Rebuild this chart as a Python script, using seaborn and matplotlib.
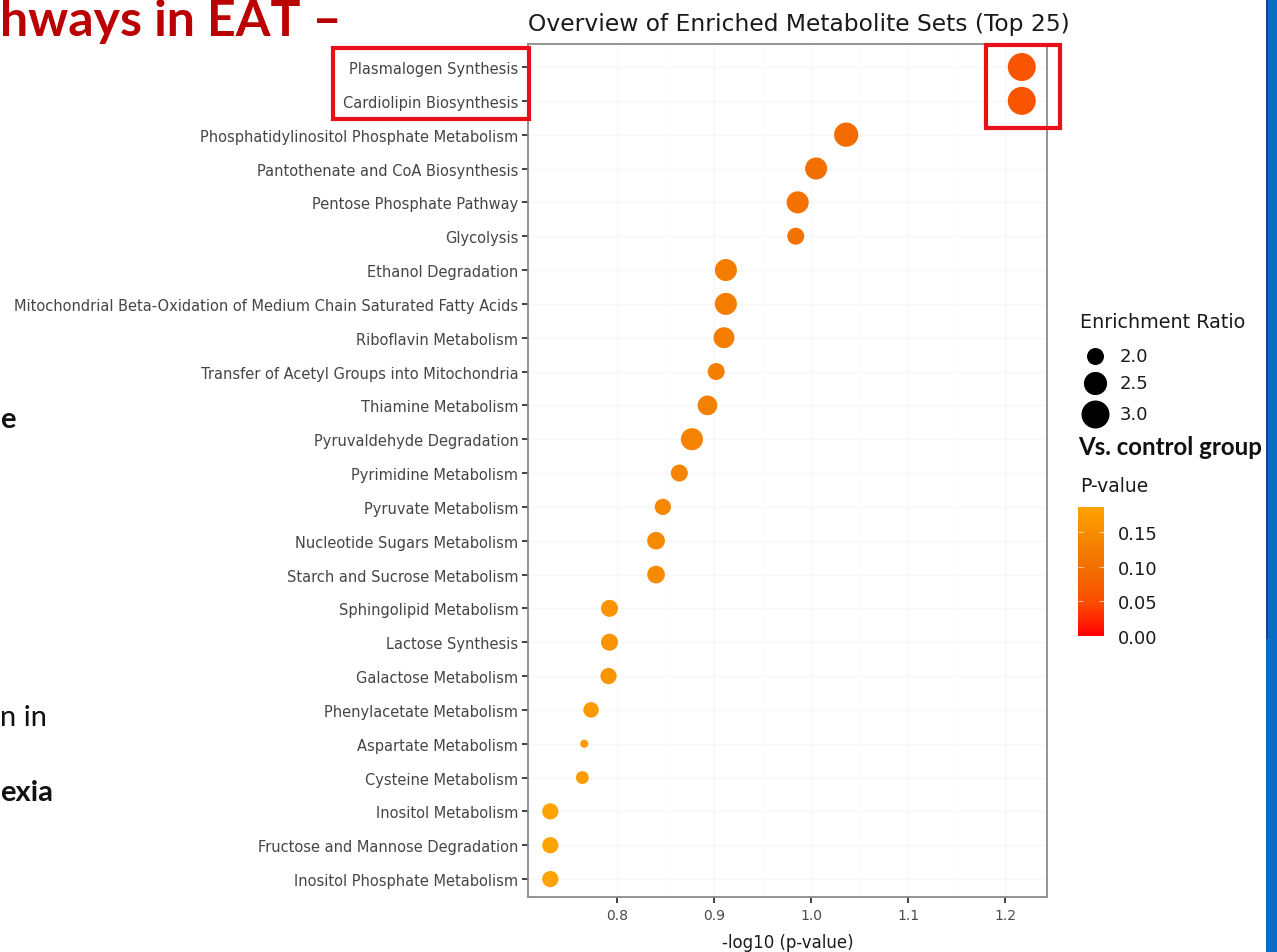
import numpy as np
import pandas as pd
import seaborn as sns
import matplotlib
matplotlib.use("Agg")
import matplotlib.pyplot as plt
from matplotlib.colors import LinearSegmentedColormap, Normalize
from matplotlib.patches import Rectangle
from matplotlib.cm import ScalarMappable
import matplotlib.transforms as mtransforms

# ---- data -------------------------------------------------------------
metabolite_sets = [
    "Plasmalogen Synthesis",
    "Cardiolipin Biosynthesis",
    "Phosphatidylinositol Phosphate Metabolism",
    "Pantothenate and CoA Biosynthesis",
    "Pentose Phosphate Pathway",
    "Glycolysis",
    "Ethanol Degradation",
    "Mitochondrial Beta-Oxidation of Medium Chain Saturated Fatty Acids",
    "Riboflavin Metabolism",
    "Transfer of Acetyl Groups into Mitochondria",
    "Thiamine Metabolism",
    "Pyruvaldehyde Degradation",
    "Pyrimidine Metabolism",
    "Pyruvate Metabolism",
    "Nucleotide Sugars Metabolism",
    "Starch and Sucrose Metabolism",
    "Sphingolipid Metabolism",
    "Lactose Synthesis",
    "Galactose Metabolism",
    "Phenylacetate Metabolism",
    "Aspartate Metabolism",
    "Cysteine Metabolism",
    "Inositol Metabolism",
    "Fructose and Mannose Degradation",
    "Inositol Phosphate Metabolism",
]
neg_log10_p = [1.217, 1.217, 1.036, 1.005, 0.986, 0.984, 0.912, 0.912, 0.910,
               0.902, 0.893, 0.877, 0.864, 0.847, 0.840, 0.840, 0.792, 0.792,
               0.791, 0.773, 0.766, 0.764, 0.731, 0.731, 0.731]
enrichment_ratio = [3.0, 3.0, 2.6, 2.4, 2.4, 2.0, 2.4, 2.4, 2.3, 2.0, 2.2, 2.4,
                    2.0, 1.95, 2.05, 2.05, 2.0, 2.0, 1.95, 1.9, 1.55, 1.75,
                    1.95, 1.95, 1.95]
highlighted = ["Plasmalogen Synthesis", "Cardiolipin Biosynthesis"]

x_ticks = [0.8, 0.9, 1.0, 1.1, 1.2]
ratio_legend = [2.0, 2.5, 3.0]
p_ticks = [0.00, 0.05, 0.10, 0.15]

df = pd.DataFrame({"set": metabolite_sets,
                   "neglog": neg_log10_p,
                   "ratio": enrichment_ratio})
df["p"] = 10.0 ** (-df["neglog"])
p_max = df["p"].max()

# ---- styling ---------------------------------------------------------
W, H = 1277, 953
sns.set_theme(style="white")
plt.rcParams["font.family"] = ["DejaVu Sans"]

cmap = LinearSegmentedColormap.from_list(
    "pvalue", ["#FF0000", "#FC4B00", "#F26C00", "#F58600", "#FFA300"])
p_norm = Normalize(0.0, p_max)

SIZE_NORM = (1.5, 3.0)
SIZE_RANGE = (21.5, 406.0)


def marker_area(r):
    lo, hi = SIZE_NORM
    return SIZE_RANGE[0] + (r - lo) / (hi - lo) * (SIZE_RANGE[1] - SIZE_RANGE[0])


def fx(px):
    return px / W


def fy(py):
    return 1 - py / H


fig = plt.figure(figsize=(W / 100, H / 100), dpi=100)
fig.patch.set_facecolor("white")

ax = fig.add_axes([fx(528), fy(898), fx(1047) - fx(528), fy(45) - fy(898)])

sns.scatterplot(data=df, x="neglog", y="set", hue="p", palette=cmap,
                hue_norm=p_norm, size="ratio", sizes=SIZE_RANGE,
                size_norm=SIZE_NORM, legend=False, linewidth=0, ax=ax,
                zorder=3)

ax.set_xlim(0.708, 1.243)
ax.set_ylim(len(metabolite_sets) - 0.47, -0.68)
ax.set_xticks(x_ticks)
ax.set_xticklabels([f"{t:.1f}" for t in x_ticks])
ax.set_xticks(np.array(x_ticks[:-1]) + 0.05, minor=True)
ax.grid(True, which="major", color="#f7f7f7", linewidth=1.0)
ax.grid(True, which="minor", axis="x", color="#fafafa", linewidth=0.6)
ax.set_axisbelow(True)
for s in ax.spines.values():
    s.set_color("#8a8a8a")
    s.set_linewidth(1.3)

ax.tick_params(axis="x", which="major", length=4, width=1.3,
               color="#333333", labelcolor="#4a4a4a", labelsize=10, pad=4,
               bottom=True)
ax.tick_params(axis="y", which="major", length=4, width=1.3,
               color="#333333", labelcolor="#454545", labelsize=10.5, pad=3,
               left=True)
ax.tick_params(axis="both", which="minor", length=0)
ax.set_xlabel("-log10 (p-value)", fontsize=12, color="#1a1a1a", labelpad=8)
ax.set_ylabel("")
ax.set_title("Overview of Enriched Metabolite Sets (Top 25)", loc="left",
             fontsize=16.8, color="#1a1a1a", pad=10)

# ---- highlight boxes --------------------------------------------------
red = "#E8101A"
rows = [metabolite_sets.index(h) for h in highlighted]
hx = [neg_log10_p[i] for i in rows]
label_box = Rectangle((-0.376, min(rows) - 0.57), 0.378,
                      max(rows) - min(rows) + 1.11,
                      transform=mtransforms.blended_transform_factory(
                          ax.transAxes, ax.transData),
                      fill=False, edgecolor=red, linewidth=3.0, clip_on=False,
                      zorder=5)
ax.add_patch(label_box)
point_box = Rectangle((min(hx) - 0.037, min(rows) - 0.66), 0.076,
                      max(rows) - min(rows) + 1.46, fill=False,
                      edgecolor=red, linewidth=3.0, clip_on=False, zorder=5)
ax.add_patch(point_box)

# ---- legends ----------------------------------------------------------
overlay = fig.add_axes([0, 0, 1, 1], facecolor="none")
overlay.set_xlim(0, W)
overlay.set_ylim(H, 0)
overlay.axis("off")

overlay.text(1080, 323, "Enrichment Ratio", fontsize=13.8, color="#1a1a1a",
             va="center", ha="left")
for r, yy in zip(ratio_legend, [357, 384, 415]):
    overlay.scatter([1095], [yy], s=marker_area(r), color="black",
                    linewidth=0)
    overlay.text(1120, yy, f"{r:.1f}", fontsize=13, color="#1a1a1a",
                 va="center", ha="left")

overlay.text(1078, 448, "Vs. control group", fontsize=17.3, fontweight="bold",
             family="Lato", color="#111111", va="center", ha="left")
overlay.text(1080, 487, "P-value", fontsize=13.5, color="#1a1a1a",
             va="center", ha="left")

cax = fig.add_axes([fx(1078), fy(637), fx(1104) - fx(1078), fy(508) - fy(637)])
cb = fig.colorbar(ScalarMappable(norm=p_norm, cmap=cmap), cax=cax)
cb.outline.set_visible(False)
cb.set_ticks(p_ticks)
cb.set_ticklabels([f"{t:.2f}" for t in p_ticks])
cax.tick_params(length=0, labelsize=13, labelcolor="#1a1a1a", pad=10)
for t in p_ticks[1:]:
    cax.hlines(t, 0, 0.2, color="white", linewidth=0.8, alpha=0.6)
    cax.hlines(t, 0.8, 1.0, color="white", linewidth=0.8, alpha=0.6)

# ---- slide elements around the chart ----------------------------------
overlay.text(0, 22, "hways in EAT \u2013", fontsize=36, fontweight="bold",
             family="Lato", color="#BA0000", ha="left", va="center")
overlay.text(0, 420, "e", fontsize=21, fontweight="bold",
             family="Lato", color="#111111", ha="left", va="center")
overlay.text(0, 718, "n in", fontsize=21, family="Lato",
             color="#111111", ha="left", va="center")
overlay.text(0, 793, "exia", fontsize=21, fontweight="bold",
             family="Lato", color="#111111", ha="left", va="center")

overlay.add_patch(Rectangle((1266, 0), 11, H, color="#0B6CC4", linewidth=0))
overlay.add_patch(Rectangle((1266, 0), 2, 640, color="#1F3C88", linewidth=0))

fig.savefig("out.png", dpi=100)
